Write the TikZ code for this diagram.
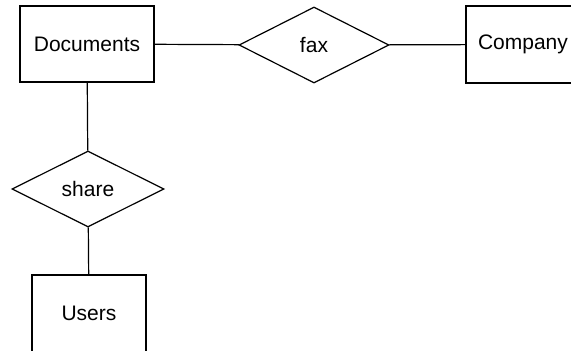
\documentclass[tikz,border=0pt]{standalone}
\usepackage{fontspec}
\setmainfont{Liberation Sans}
\usepackage{tikz}
\usetikzlibrary{shapes.geometric,positioning}

\tikzset{
  entity/.style={draw, line width=1.2pt, minimum width=134pt, minimum height=76pt, inner sep=0pt},
  relation/.style={draw, diamond, line width=1.2pt, minimum width=150pt, minimum height=76pt, inner sep=0pt},
  link/.style={line width=1.2pt}
}

\begin{document}
\begin{tikzpicture}[x=1pt, y=-1pt, font=\fontsize{21}{25}\selectfont]
\clip (0,0) rectangle (571,351);

\node[entity] (documents) at (87,44) {Documents};
\node[relation] (fax) at (314,45) {fax};
\node[entity, minimum width=114pt, minimum height=77pt] (company) at (523,44.5) {Company};

\node[relation, minimum width=152pt] (share) at (88,189) {share};
\node[entity, minimum width=114pt, minimum height=77pt] (users) at (89,313.5) {Users};

\draw[link] (documents) -- (fax);
\draw[link] (fax) -- (company);
\draw[link] (documents) -- (share);
\draw[link] (share) -- (users);

\end{tikzpicture}
\end{document}
